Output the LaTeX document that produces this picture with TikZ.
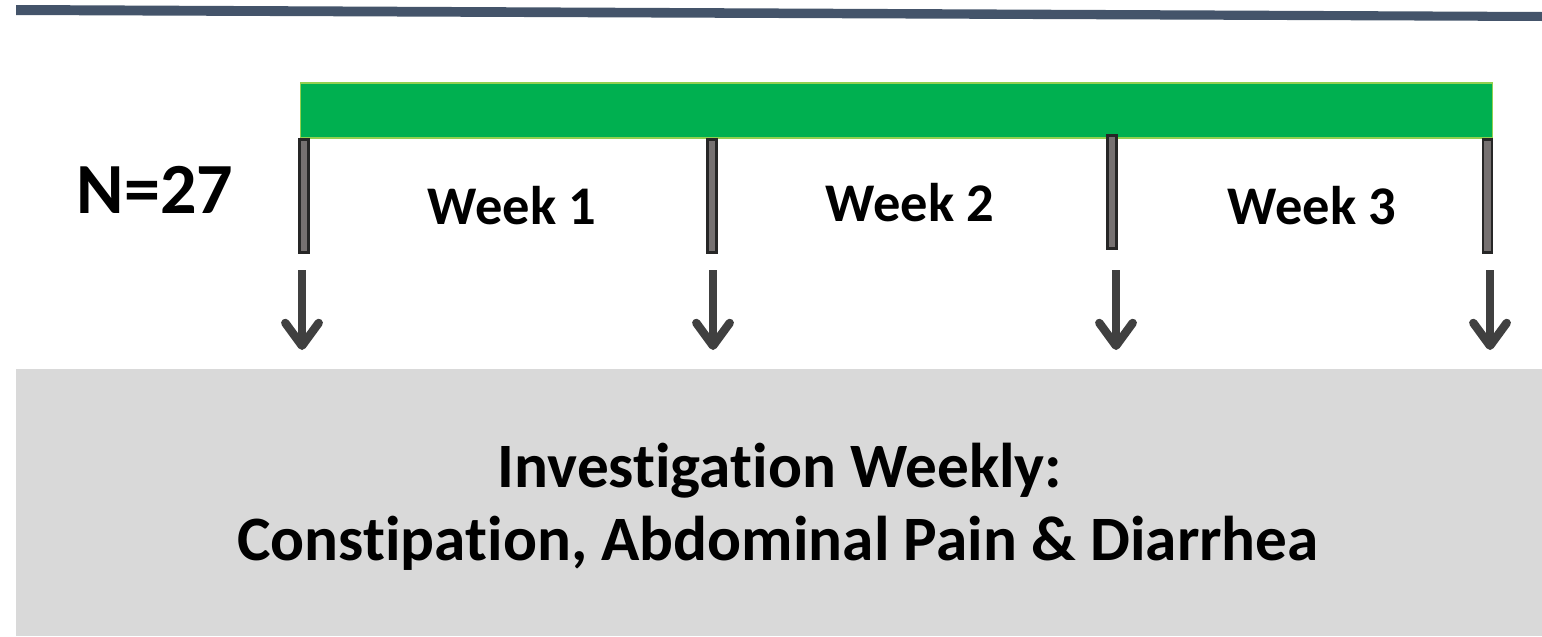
\documentclass[tikz,border=0pt]{standalone}
\usepackage{fontspec}
\setmainfont{Carlito}[Ligatures=NoCommon]
\usepackage{tikz}
\usetikzlibrary{arrows.meta}

\definecolor{headerblue}{HTML}{44546A}
\definecolor{bargreen}{HTML}{00B050}
\definecolor{baredge}{HTML}{92D050}
\definecolor{tickgray}{HTML}{767171}
\definecolor{arrowgray}{HTML}{404040}
\definecolor{boxgray}{HTML}{D9D9D9}

\tikzset{
  tickbar/.style={rectangle, fill=tickgray, draw=black!85, line width=1.2pt,
    minimum width=0.18cm, minimum height=2.26cm, inner sep=0pt},
  weeklabel/.style={anchor=base, font=\fontsize{31}{36}\selectfont\bfseries},
  boxtext/.style={anchor=base, font=\fontsize{36}{43}\selectfont\bfseries},
  downarrow/.style={draw=arrowgray, line width=4.8pt,
    -{Straight Barb[round,length=13pt,width=19pt]}}
}

\begin{document}
\begin{tikzpicture}[x=0.02cm,y=-0.02cm]
\useasboundingbox (0,0) rectangle (1542,636);

% Header line
\fill[headerblue] (16,5) -- (1542,12) -- (1542,21) -- (16,15) -- cycle;

% Bottom panel
\node[rectangle, fill=boxgray, minimum width=30.52cm, minimum height=5.34cm,
  inner sep=0pt] (panel) at (779,502.5) {};
\node[boxtext] (line1) at (780,487) {Investigation Weekly:};
\node[boxtext] (line2) at (778,560) {Constipation, Abdominal Pain \& Diarrhea};

% Treatment bar
\node[rectangle, fill=bargreen, draw=baredge, line width=0.6pt,
  minimum width=23.86cm, minimum height=1.1cm, inner sep=0pt] (bar) at (896.5,110.5) {};

% Group size
\node[anchor=base, font=\fontsize{41}{48}\selectfont\bfseries] (n) at (155,213) {N=27};

% Week ticks
\node[tickbar] (t1) at (304,196) {};
\node[tickbar] (t2) at (712,196) {};
\node[tickbar] (t3) at (1112,192) {};
\node[tickbar] (t4) at (1487.5,196) {};

% Week labels
\node[weeklabel] (w1) at (512,224) {Week 1};
\node[weeklabel] (w2) at (910,221) {Week 2};
\node[weeklabel] (w3) at (1312,224) {Week 3};

% Arrows down to the panel
\foreach \i/\ax in {1/302, 2/713, 3/1116, 4/1490} {
    \coordinate (s\i) at (\ax,270);
    \coordinate (e\i) at (\ax,350);
    \draw[downarrow] (s\i) -- (e\i);
}
\end{tikzpicture}
\end{document}
